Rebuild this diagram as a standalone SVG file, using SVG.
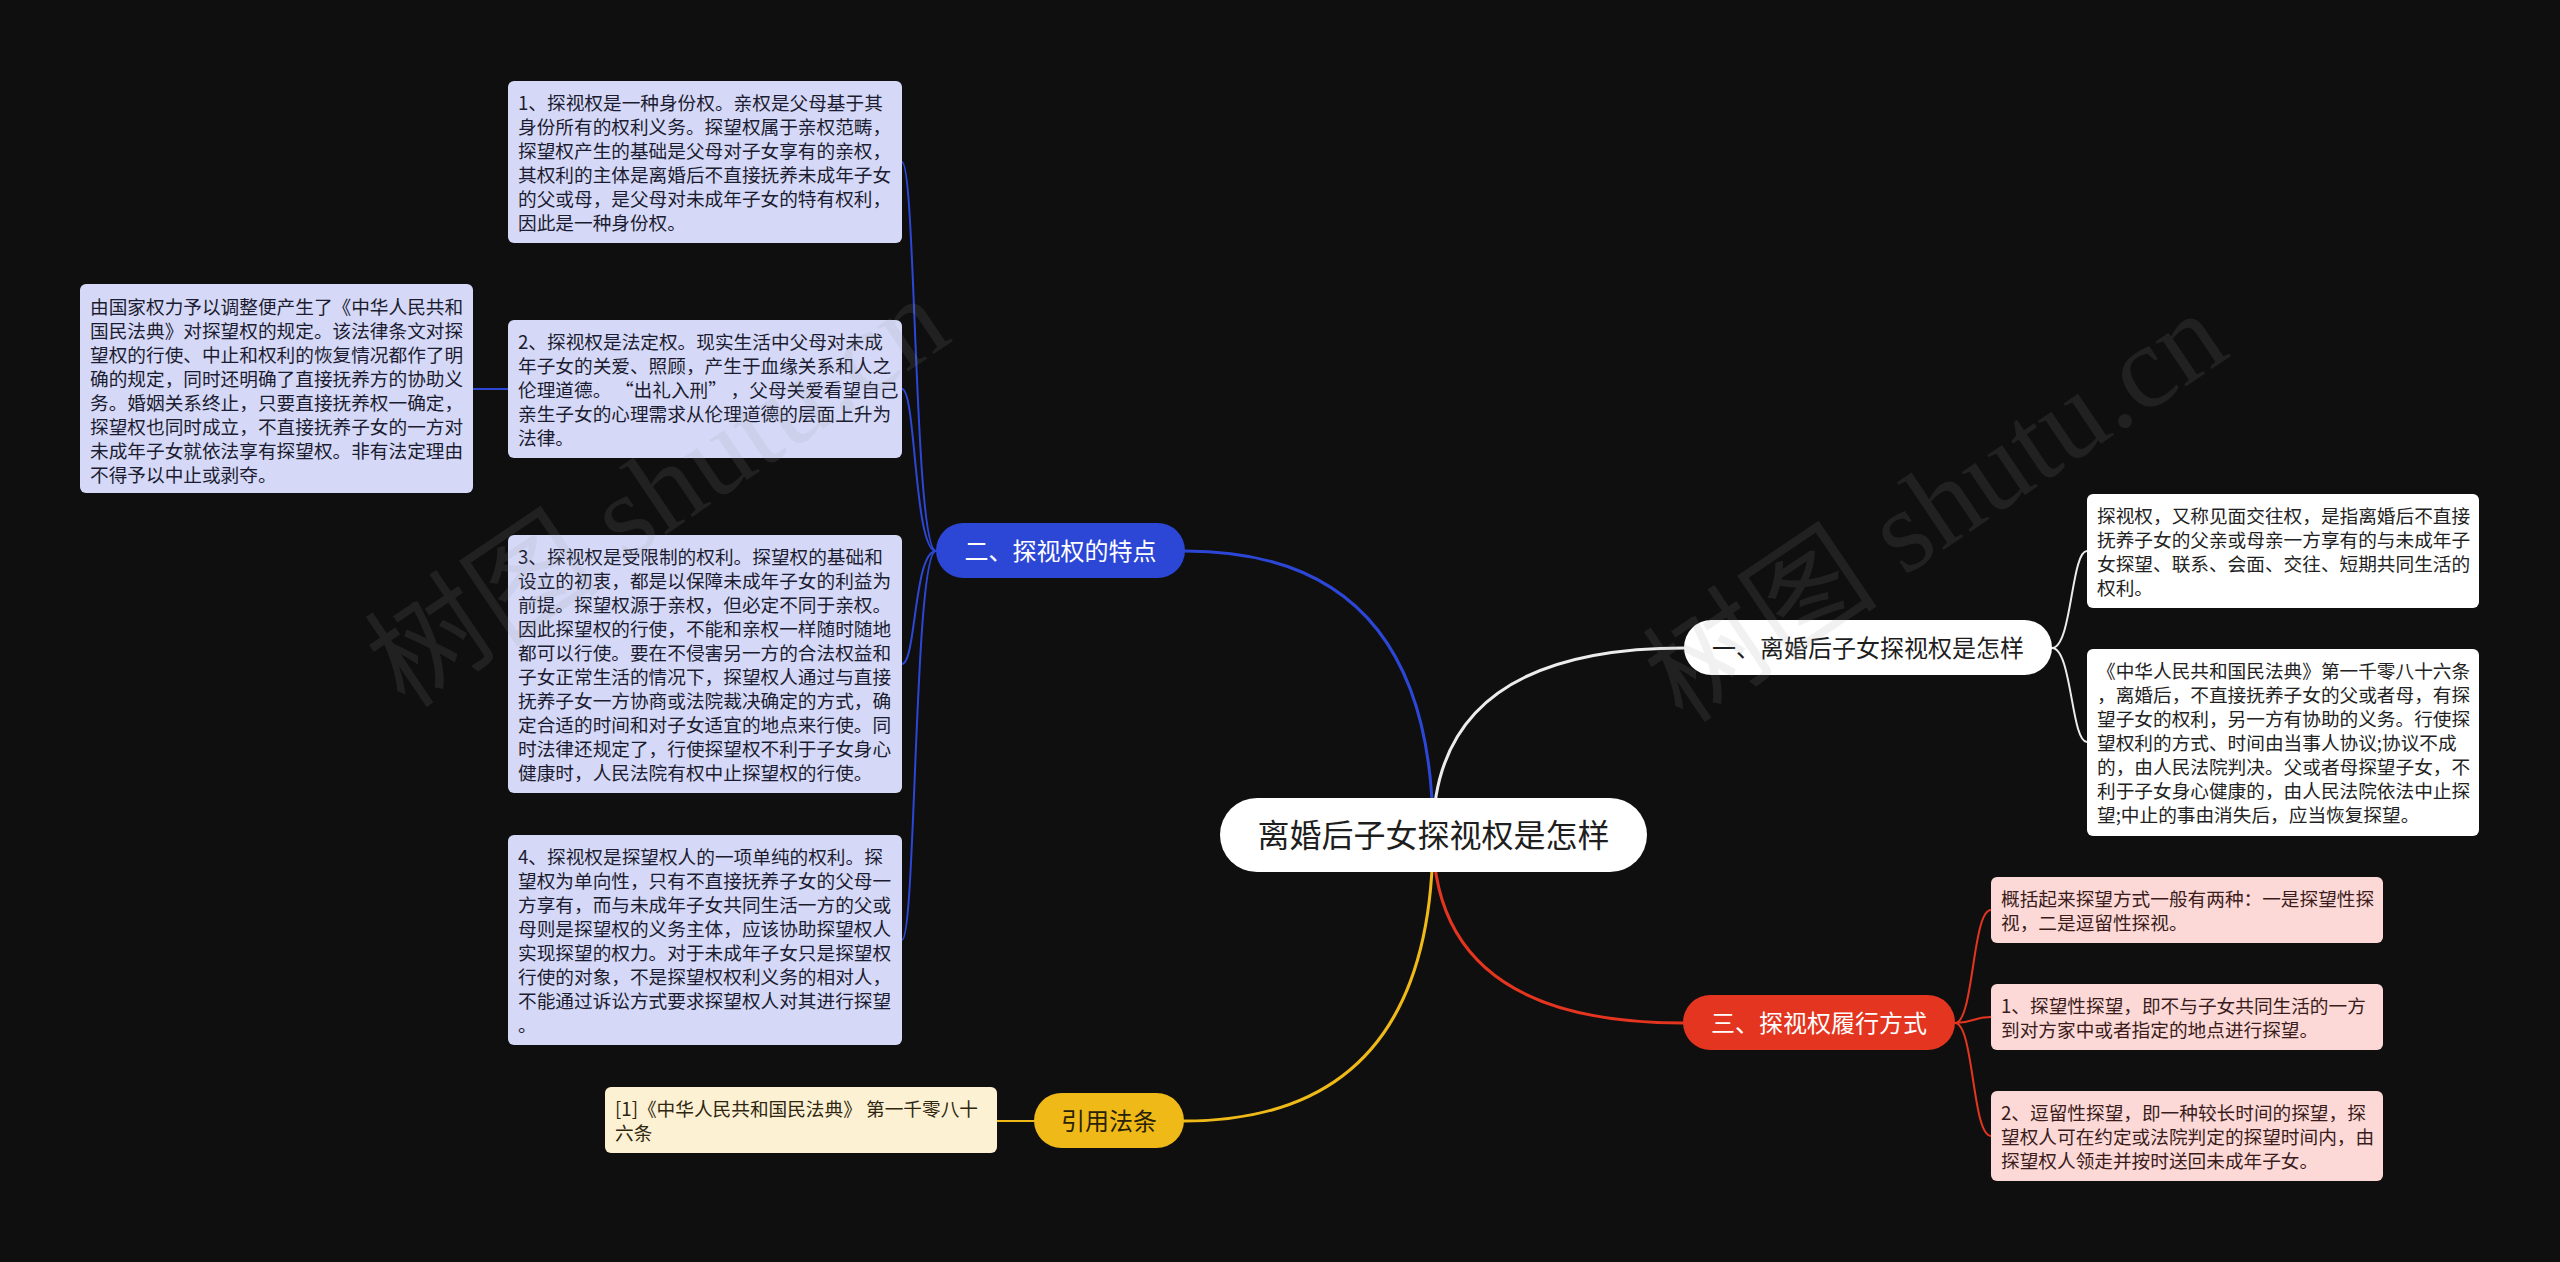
<svg xmlns="http://www.w3.org/2000/svg" width="2560" height="1262" viewBox="0 0 2560 1262">
<style>
text{font-family:"Noto Sans CJK SC","Noto Sans",sans-serif}
.d{font-size:18.67px}
.l1{font-size:24px;text-anchor:middle}
.root{font-size:32px;text-anchor:middle;fill:#1e1e1e}
.box-b{fill:#d5d9f7}
.box-w{fill:#ffffff}
.box-r{fill:#fcd9d6}
.box-y{fill:#fdf1d3}
.tb{fill:#1c1c30}
.tw{fill:#222222}
.tr{fill:#3a1c1c}
.ty{fill:#2e2610}
.c{fill:none;stroke-linecap:round}
.cw{stroke:#ececec}
.cb{stroke:#2c47d6}
.cr{stroke:#e3351f}
.cy{stroke:#efba18}
.m{stroke-width:3}
.s{stroke-width:2}
.wm{font-family:"Liberation Serif","Noto Sans CJK SC",serif;font-size:118px;fill:#9a9a9a;opacity:0.13}
</style>
<rect width="2560" height="1262" fill="#0f0f0f"/>

<g id="connectors">
  <path class="c cb m" d="M1433 835 Q1433 551 1185 551"/>
  <path class="c cw m" d="M1433 835 Q1433 648 1684 648"/>
  <path class="c cr m" d="M1433 835 Q1433 1023 1683 1023"/>
  <path class="c cy m" d="M1433 835 Q1433 1121 1184 1121"/>
  <path class="c cb s" d="M936 551 C914 551 916 162 902 162"/>
  <path class="c cb s" d="M936 551 C914 551 916 389 902 389"/>
  <path class="c cb s" d="M936 551 C914 551 916 664 902 664"/>
  <path class="c cb s" d="M936 551 C914 551 916 940 902 940"/>
  <path class="c cb s" d="M508 389 L473 389"/>
  <path class="c cw s" d="M2052 648 C2072 648 2071 551 2087 551"/>
  <path class="c cw s" d="M2052 648 C2072 648 2071 742 2087 742"/>
  <path class="c cr s" d="M1955 1023 C1974 1023 1972 910 1991 910"/>
  <path class="c cr s" d="M1955 1023 C1974 1023 1972 1017 1991 1017"/>
  <path class="c cr s" d="M1955 1023 C1974 1023 1972 1136 1991 1136"/>
  <path class="c cy s" d="M1034 1121 L997 1121"/>
</g>

<g id="node-root">
  <rect x="1220" y="798" width="427" height="74" rx="37" fill="#ffffff"/>
  <text class="root" x="1433.5" y="847">离婚后子女探视权是怎样</text>
</g>

<g id="node-1">
  <rect x="1684" y="620" width="368" height="55" rx="27.5" fill="#ffffff"/>
  <text class="l1" x="1868" y="656.5" fill="#1e1e1e">一、离婚后子女探视权是怎样</text>
</g>

<g id="node-2">
  <rect x="936" y="523" width="249" height="55" rx="27.5" fill="#2c47d6"/>
  <text class="l1" x="1060.5" y="559.5" fill="#ffffff">二、探视权的特点</text>
</g>

<g id="node-3">
  <rect x="1683" y="995" width="272" height="55" rx="27.5" fill="#e3351f"/>
  <text class="l1" x="1819" y="1031.5" fill="#ffffff">三、探视权履行方式</text>
</g>

<g id="node-4">
  <rect x="1034" y="1093" width="150" height="55" rx="27.5" fill="#efba18"/>
  <text class="l1" x="1109" y="1129.5" fill="#2a2208">引用法条</text>
</g>

<g id="node-2-1">
  <rect class="box-b" x="508" y="81" width="394" height="162" rx="6"/>
  <text class="d tb">
    <tspan x="518" y="110">1、探视权是一种身份权。亲权是父母基于其</tspan>
    <tspan x="518" y="134">身份所有的权利义务。探望权属于亲权范畴，</tspan>
    <tspan x="518" y="158">探望权产生的基础是父母对子女享有的亲权，</tspan>
    <tspan x="518" y="182">其权利的主体是离婚后不直接抚养未成年子女</tspan>
    <tspan x="518" y="206">的父或母，是父母对未成年子女的特有权利，</tspan>
    <tspan x="518" y="230">因此是一种身份权。</tspan>
  </text>
</g>

<g id="node-2-2">
  <rect class="box-b" x="508" y="320" width="394" height="138" rx="6"/>
  <text class="d tb">
    <tspan x="518" y="349">2、探视权是法定权。现实生活中父母对未成</tspan>
    <tspan x="518" y="373">年子女的关爱、照顾，产生于血缘关系和人之</tspan>
    <tspan x="518" y="397">伦理道德。<tspan dx="13">“</tspan>出礼入刑”<tspan dx="13">，</tspan>父母关爱看望自己</tspan>
    <tspan x="518" y="421">亲生子女的心理需求从伦理道德的层面上升为</tspan>
    <tspan x="518" y="445">法律。</tspan>
  </text>
</g>

<g id="node-2-2-1">
  <rect class="box-b" x="80" y="284" width="393" height="209" rx="6"/>
  <text class="d tb">
    <tspan x="90" y="314">由国家权力予以调整便产生了《中华人民共和</tspan>
    <tspan x="90" y="338">国民法典》对探望权的规定。该法律条文对探</tspan>
    <tspan x="90" y="362">望权的行使、中止和权利的恢复情况都作了明</tspan>
    <tspan x="90" y="386">确的规定，同时还明确了直接抚养方的协助义</tspan>
    <tspan x="90" y="410">务。婚姻关系终止，只要直接抚养权一确定，</tspan>
    <tspan x="90" y="434">探望权也同时成立，不直接抚养子女的一方对</tspan>
    <tspan x="90" y="458">未成年子女就依法享有探望权。非有法定理由</tspan>
    <tspan x="90" y="482">不得予以中止或剥夺。</tspan>
  </text>
</g>

<g id="node-2-3">
  <rect class="box-b" x="508" y="535" width="394" height="258" rx="6"/>
  <text class="d tb">
    <tspan x="518" y="564">3、探视权是受限制的权利。探望权的基础和</tspan>
    <tspan x="518" y="588">设立的初衷，都是以保障未成年子女的利益为</tspan>
    <tspan x="518" y="612">前提。探望权源于亲权，但必定不同于亲权。</tspan>
    <tspan x="518" y="636">因此探望权的行使，不能和亲权一样随时随地</tspan>
    <tspan x="518" y="660">都可以行使。要在不侵害另一方的合法权益和</tspan>
    <tspan x="518" y="684">子女正常生活的情况下，探望权人通过与直接</tspan>
    <tspan x="518" y="708">抚养子女一方协商或法院裁决确定的方式，确</tspan>
    <tspan x="518" y="732">定合适的时间和对子女适宜的地点来行使。同</tspan>
    <tspan x="518" y="756">时法律还规定了，行使探望权不利于子女身心</tspan>
    <tspan x="518" y="780">健康时，人民法院有权中止探望权的行使。</tspan>
  </text>
</g>

<g id="node-2-4">
  <rect class="box-b" x="508" y="835" width="394" height="210" rx="6"/>
  <text class="d tb">
    <tspan x="518" y="864">4、探视权是探望权人的一项单纯的权利。探</tspan>
    <tspan x="518" y="888">望权为单向性，只有不直接抚养子女的父母一</tspan>
    <tspan x="518" y="912">方享有，而与未成年子女共同生活一方的父或</tspan>
    <tspan x="518" y="936">母则是探望权的义务主体，应该协助探望权人</tspan>
    <tspan x="518" y="960">实现探望的权力。对于未成年子女只是探望权</tspan>
    <tspan x="518" y="984">行使的对象，不是探望权权利义务的相对人，</tspan>
    <tspan x="518" y="1008">不能通过诉讼方式要求探望权人对其进行探望</tspan>
    <tspan x="518" y="1032">。</tspan>
  </text>
</g>

<g id="node-1-1">
  <rect class="box-w" x="2087" y="494" width="392" height="114" rx="6"/>
  <text class="d tw">
    <tspan x="2097" y="523">探视权，又称见面交往权，是指离婚后不直接</tspan>
    <tspan x="2097" y="547">抚养子女的父亲或母亲一方享有的与未成年子</tspan>
    <tspan x="2097" y="571">女探望、联系、会面、交往、短期共同生活的</tspan>
    <tspan x="2097" y="595">权利。</tspan>
  </text>
</g>

<g id="node-1-2">
  <rect class="box-w" x="2087" y="649" width="392" height="187" rx="6"/>
  <text class="d tw">
    <tspan x="2097" y="678">《中华人民共和国民法典》第一千零八十六条</tspan>
    <tspan x="2097" y="702">，离婚后，不直接抚养子女的父或者母，有探</tspan>
    <tspan x="2097" y="726">望子女的权利，另一方有协助的义务。行使探</tspan>
    <tspan x="2097" y="750">望权利的方式、时间由当事人协议;协议不成</tspan>
    <tspan x="2097" y="774">的，由人民法院判决。父或者母探望子女，不</tspan>
    <tspan x="2097" y="798">利于子女身心健康的，由人民法院依法中止探</tspan>
    <tspan x="2097" y="822">望;中止的事由消失后，应当恢复探望。</tspan>
  </text>
</g>

<g id="node-3-1">
  <rect class="box-r" x="1991" y="877" width="392" height="66" rx="6"/>
  <text class="d tr">
    <tspan x="2001" y="906">概括起来探望方式一般有两种：一是探望性探</tspan>
    <tspan x="2001" y="930">视，二是逗留性探视。</tspan>
  </text>
</g>

<g id="node-3-2">
  <rect class="box-r" x="1991" y="984" width="392" height="66" rx="6"/>
  <text class="d tr">
    <tspan x="2001" y="1013">1、探望性探望，即不与子女共同生活的一方</tspan>
    <tspan x="2001" y="1037">到对方家中或者指定的地点进行探望。</tspan>
  </text>
</g>

<g id="node-3-3">
  <rect class="box-r" x="1991" y="1091" width="392" height="90" rx="6"/>
  <text class="d tr">
    <tspan x="2001" y="1120">2、逗留性探望，即一种较长时间的探望，探</tspan>
    <tspan x="2001" y="1144">望权人可在约定或法院判定的探望时间内，由</tspan>
    <tspan x="2001" y="1168">探望权人领走并按时送回未成年子女。</tspan>
  </text>
</g>

<g id="node-4-1">
  <rect class="box-y" x="605" y="1087" width="392" height="66" rx="6"/>
  <text class="d ty">
    <tspan x="615" y="1116">[1]《中华人民共和国民法典》 第一千零八十</tspan>
    <tspan x="615" y="1140">六条</tspan>
  </text>
</g>

<g id="watermark">
  <text class="wm" transform="translate(680 525) rotate(-34)" text-anchor="middle">树图 shutu.cn</text>
  <text class="wm" transform="translate(1958 540) rotate(-34)" text-anchor="middle">树图 shutu.cn</text>
</g>
</svg>
